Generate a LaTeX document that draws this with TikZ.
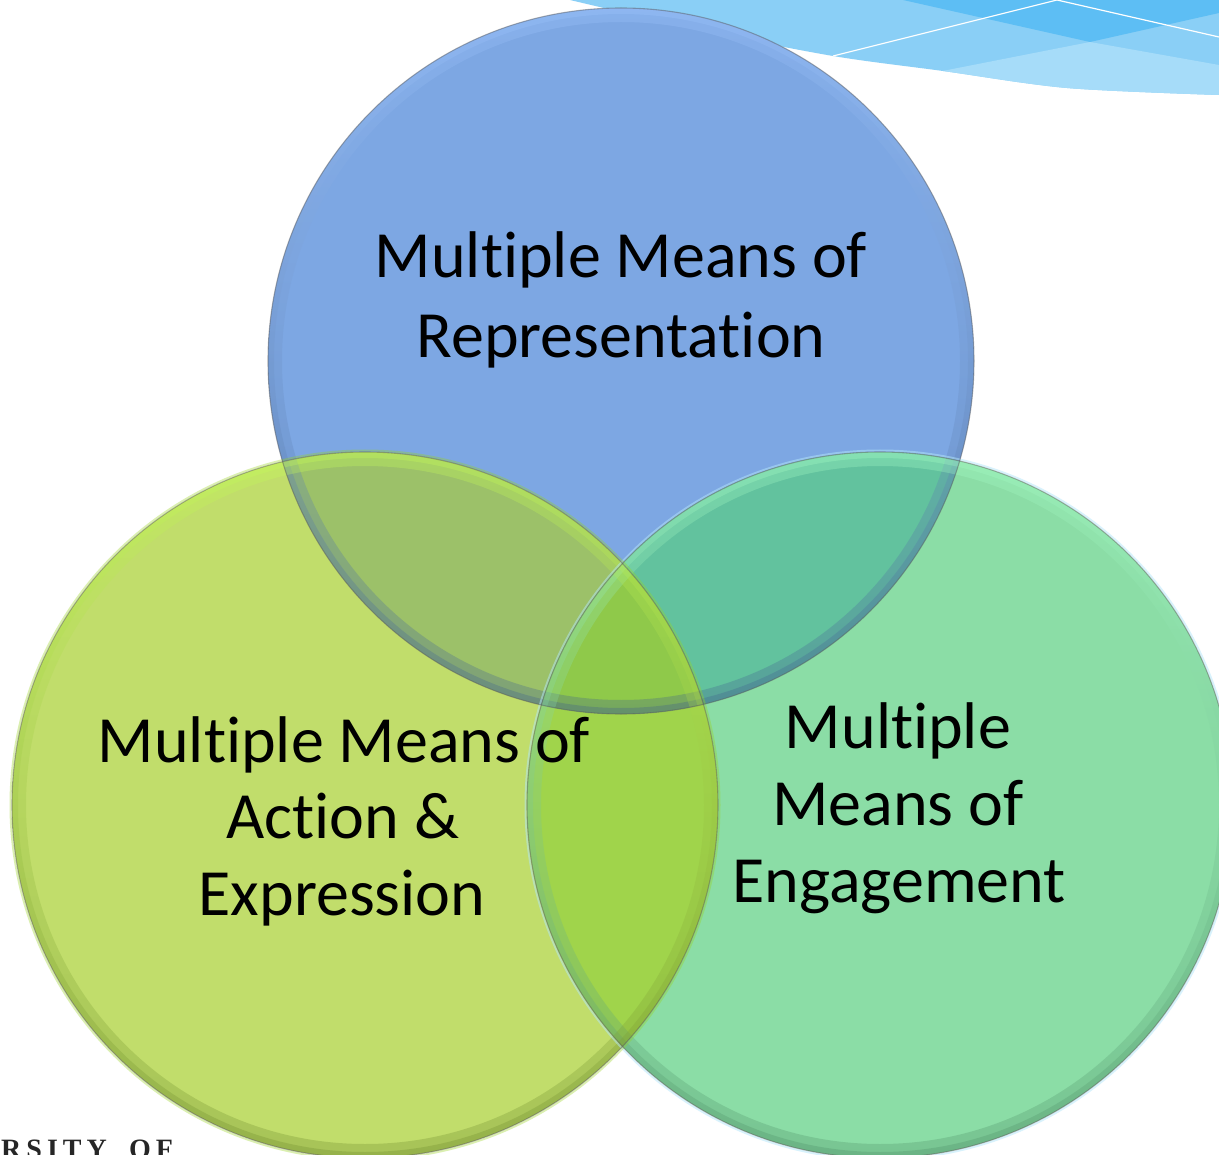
\documentclass[tikz,border=0pt]{standalone}
\usepackage{fontspec}
\setmainfont{Carlito}[Ligatures={NoCommon}]
\newfontfamily\capsfont[LetterSpace=18]{Liberation Serif}
\usetikzlibrary{calc}
\definecolor{cBlue}{HTML}{7DA7E3}
\definecolor{cRight}{HTML}{8BDDA6}
\definecolor{cLeft}{HTML}{C1DD6B}
\definecolor{cBL}{HTML}{9CC169}
\definecolor{cBR}{HTML}{62C29E}
\definecolor{cLR}{HTML}{A0D44B}
\definecolor{cBLR}{HTML}{8FC94A}
\definecolor{swMid}{HTML}{8ACFF6}
\definecolor{swDark}{HTML}{5DBEF4}
\definecolor{swLight}{HTML}{A6DCF9}
\definecolor{rimBl}{HTML}{9FC6FF}
\definecolor{rimBd}{HTML}{3E5E8C}
\definecolor{rimRl}{HTML}{A8FFC8}
\definecolor{rimRd}{HTML}{4E8F66}
\definecolor{rimLl}{HTML}{C8FF5A}
\definecolor{rimLd}{HTML}{6E8A2E}
\tikzset{
  lbl/.style={font=\fontsize{66}{78}\selectfont, anchor=base, inner sep=0pt, text=black},
  outline/.style={draw=black!65, draw opacity=0.45, line width=1.1pt},
  unitext/.style={font=\capsfont\bfseries\fontsize{28}{30}\selectfont, anchor=base west, inner sep=0pt, text=black!85},
}
\begin{document}
\begin{tikzpicture}[x=1pt,y=-1pt]
\useasboundingbox (0,0) rectangle (1219,1155);
\clip (0,0) rectangle (1219,1155);
\fill[white] (0,0) rectangle (1219,1155);
% swoosh
\begin{scope}
  \clip (570,0) -- plot[smooth] coordinates {(570,0) (700,30) (833,56) (943,71) (1067,88) (1219,95)} -- (1219,0) -- cycle;
  \fill[swMid] (560,0) rectangle (1219,120);
  \fill[swDark] (903,0) -- (1090,42) -- (1219,13) -- (1219,0) -- cycle;
  \fill[swLight] (800,99) -- (1090,42) -- (1219,65) -- (1219,200) -- (800,200) -- cycle;
  \draw[white, line width=1.2pt] (833,56) -- (1057,0) -- (1219,37);
\end{scope}
% circles
\coordinate (cB) at (621,361);
\coordinate (cL) at (365,805);
\coordinate (cR) at (880,805);
\fill[cBlue] (cB) circle (353pt);
\fill[cRight] (cR) circle (353pt);
\fill[cLeft] (cL) circle (353pt);
\begin{scope}
  \clip (cL) circle (353pt);
  \fill[cLR] (cR) circle (353pt);
\end{scope}
\begin{scope}
  \clip (cB) circle (353pt);
  \fill[cBL] (cL) circle (353pt);
  \fill[cBR] (cR) circle (353pt);
  \clip (cL) circle (353pt);
  \fill[cBLR] (cR) circle (353pt);
\end{scope}
% rims
\foreach \c/\lt/\dk in {cB/rimBl/rimBd, cR/rimRl/rimRd, cL/rimLl/rimLd}{
  \shade[even odd rule, top color=\lt, bottom color=\dk, opacity=0.30] (\c) circle (353pt) (\c) circle (339pt);
  \shade[even odd rule, top color=\lt, bottom color=\dk, opacity=0.30] (\c) circle (353pt) (\c) circle (347pt);
}
\draw[draw=cyan!30, draw opacity=0.5, line width=2pt] (cR) circle (354.5pt);
\draw[draw=yellow!60!green, draw opacity=0.35, line width=2pt] (cL) circle (354.5pt);
\draw[outline] (cB) circle (353pt);
\draw[outline] (cR) circle (353pt);
\draw[outline] (cL) circle (353pt);
% texts
\node[lbl] (t1) at (621,278) {Multiple Means of};
\node[lbl] (t2) at (621,358) {Representation};
\node[lbl] (l1) at (344,762) {Multiple Means of};
\node[lbl] (l2) at (343,838) {Action \&};
\node[lbl] (l3) at (342,915) {Expression};
\node[lbl] (r1) at (898,748) {Multiple};
\node[lbl] (r2) at (898,825) {Means of};
\node[lbl] (r3) at (899,902) {Engagement};
\node[unitext] (uni1) at (1,1158) {RSITY};
\node[unitext] (uni2) at (129,1158) {OF};
\end{tikzpicture}
\end{document}
